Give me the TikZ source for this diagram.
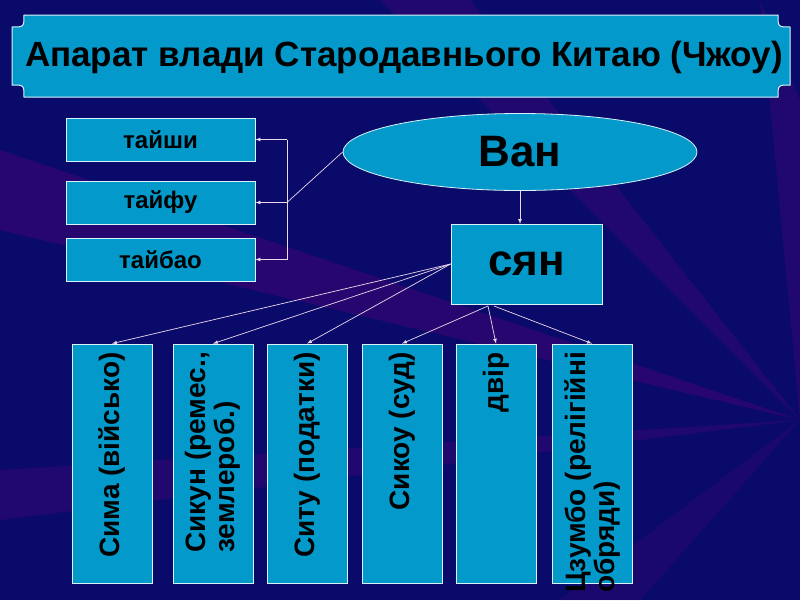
\documentclass[tikz,border=0pt]{standalone}
\usepackage{fontspec}
\setmainfont{Liberation Sans}
\usetikzlibrary{shapes.geometric}
\begin{document}
\begin{tikzpicture}[x=1pt,y=-1pt,
  bx/.style={draw=white!85!cyan,line width=0.8pt,fill=boxc,inner sep=0pt,font=\bfseries},
  con/.style={draw=white!85!violet,line width=0.7pt,-latex}]
\definecolor{boxc}{HTML}{0399CB}
\definecolor{bg}{HTML}{0A0A6A}
\fill[bg] (0,0) rectangle (800,600);
\useasboundingbox (0,0) rectangle (800,600);
% rays
\fill[violet!50!bg,opacity=0.5] (800,420) -- (0,150) -- (0,230) -- cycle;
\fill[violet!50!bg,opacity=0.4] (800,420) -- (380,0) -- (470,0) -- cycle;
\fill[violet!50!bg,opacity=0.4] (800,420) -- (0,470) -- (0,520) -- cycle;
\fill[violet!50!bg,opacity=0.4] (800,420) -- (800,100) -- (760,0) -- cycle;
\fill[violet!50!bg,opacity=0.3] (800,420) -- (640,600) -- (560,600) -- cycle;
% title
\filldraw[fill=boxc,draw=white!85!cyan,line width=1pt]
  (24,15) -- (778,15) .. controls (778,27) .. (790,27) -- (790,85)
  .. controls (778,85) .. (778,97) -- (24,97) .. controls (24,85) .. (12,85)
  -- (12,27) .. controls (24,27) .. (24,15) -- cycle;
\node[font=\bfseries\fontsize{35}{38}\selectfont] (title) at (404,57) {Апарат влади Стародавнього Китаю (Чжоу)};
% top
\node[bx,ellipse,minimum width=354,minimum height=77,font=\bfseries\fontsize{44}{48}\selectfont] (van) at (520,152) {Ван};
\node[bx,minimum width=151,minimum height=80,font=\bfseries\fontsize{44}{48}\selectfont] (syan) at (526.5,264) {сян};
\tikzset{sb/.style={bx,minimum width=189,minimum height=43,font=\bfseries\fontsize{24}{28}\selectfont}}
\node[sb] (t1) at (160.5,139.5) {тайши};
\node[sb] (t2) at (160.5,202.5) {тайфу};
\node[sb] (t3) at (160.5,259.5) {тайбао};
\coordinate (j) at (287,202.5);
\coordinate (jt) at (287,139.5);
\coordinate (jb) at (287,259.5);
\draw[con,-] (van.west) -- (j);
\draw[con,-] (jt) -- (jb);
\draw[con] (jt) -- (t1.east);
\draw[con] (j) -- (t2.east);
\draw[con] (jb) -- (t3.east);
\coordinate (vs) at (520,190.5);
\coordinate (vs2) at (520,224);
\draw[con] (vs) -- (vs2);
% bottom boxes
\tikzset{vb/.style={bx,minimum width=80,minimum height=239}}
\node[vb] (b1) at (112,463.5) {};
\node[vb] (b2) at (213,463.5) {};
\node[vb] (b3) at (307,463.5) {};
\node[vb] (b4) at (402,463.5) {};
\node[vb] (b5) at (496,463.5) {};
\node[vb] (b6) at (592,463.5) {};
\tikzset{vt/.style={rotate=90,anchor=east,align=left,font=\bfseries\fontsize{28}{29}\selectfont,inner sep=0pt}}
\node[vt] (l1) at (112,352) {Сима (військо)};
\node[vt] (l2) at (213,352) {Сикун (ремес.,\\землероб.)};
\node[vt] (l3) at (307,352) {Ситу (податки)};
\node[vt] (l4) at (402,352) {Сикоу (суд)};
\node[vt] (l5) at (496,352) {двір};
\node[vt] (l6) at (592,352) {Цзумбо (релігійні\\обряди)};
\coordinate (s1) at (488,306);
\coordinate (s2) at (494,306);
\draw[con] (syan.west) -- (b1.north);
\draw[con] (syan.west) -- (b2.north);
\draw[con] (syan.west) -- (b3.north);
\draw[con] (s1) -- (b4.north);
\draw[con] (s1) -- (b5.north);
\draw[con] (s2) -- (b6.north);
\end{tikzpicture}
\end{document}
